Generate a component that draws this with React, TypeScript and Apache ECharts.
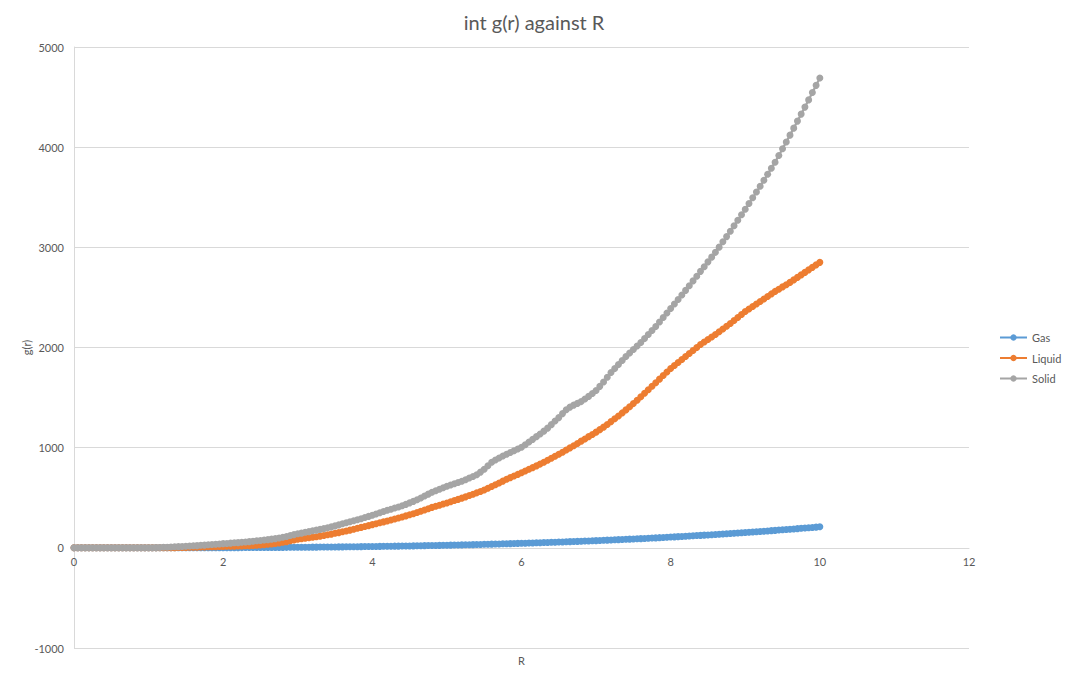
import React, { useEffect, useRef } from "react";
import * as echarts from "echarts";

const TITLE = "int g(r) against R";
const X_NAME = "R";
const Y_NAME = "g(r)";
const SERIES_NAMES = ["Gas", "Liquid", "Solid"];
const COLORS = ["#5B9BD5", "#ED7D31", "#A5A5A5"];

const R = [
  0, 0.05, 0.1, 0.15, 0.2, 0.25, 0.3, 0.35, 0.4, 0.45, 0.5, 0.55, 0.6, 0.65, 0.7, 0.75, 0.8, 0.85, 0.9, 0.95,
  1, 1.05, 1.1, 1.15, 1.2, 1.25, 1.3, 1.35, 1.4, 1.45, 1.5, 1.55, 1.6, 1.65, 1.7, 1.75, 1.8, 1.85, 1.9, 1.95,
  2, 2.05, 2.1, 2.15, 2.2, 2.25, 2.3, 2.35, 2.4, 2.45, 2.5, 2.55, 2.6, 2.65, 2.7, 2.75, 2.8, 2.85, 2.9, 2.95,
  3, 3.05, 3.1, 3.15, 3.2, 3.25, 3.3, 3.35, 3.4, 3.45, 3.5, 3.55, 3.6, 3.65, 3.7, 3.75, 3.8, 3.85, 3.9, 3.95,
  4, 4.05, 4.1, 4.15, 4.2, 4.25, 4.3, 4.35, 4.4, 4.45, 4.5, 4.55, 4.6, 4.65, 4.7, 4.75, 4.8, 4.85, 4.9, 4.95,
  5, 5.05, 5.1, 5.15, 5.2, 5.25, 5.3, 5.35, 5.4, 5.45, 5.5, 5.55, 5.6, 5.65, 5.7, 5.75, 5.8, 5.85, 5.9, 5.95,
  6, 6.05, 6.1, 6.15, 6.2, 6.25, 6.3, 6.35, 6.4, 6.45, 6.5, 6.55, 6.6, 6.65, 6.7, 6.75, 6.8, 6.85, 6.9, 6.95,
  7, 7.05, 7.1, 7.15, 7.2, 7.25, 7.3, 7.35, 7.4, 7.45, 7.5, 7.55, 7.6, 7.65, 7.7, 7.75, 7.8, 7.85, 7.9, 7.95,
  8, 8.05, 8.1, 8.15, 8.2, 8.25, 8.3, 8.35, 8.4, 8.45, 8.5, 8.55, 8.6, 8.65, 8.7, 8.75, 8.8, 8.85, 8.9, 8.95,
  9, 9.05, 9.1, 9.15, 9.2, 9.25, 9.3, 9.35, 9.4, 9.45, 9.5, 9.55, 9.6, 9.65, 9.7, 9.75, 9.8, 9.85, 9.9, 9.95,
  10,
];

const GAS = [
  0, 0, 0, 0, 0, 0, 0, 0, 0, 0, 0, 0, 0, 0, 0, 0, 0, 0, 0, 0,
  0.2, 0.2, 0.3, 0.3, 0.4, 0.4, 0.5, 0.5, 0.6, 0.6, 0.7, 0.8, 0.9, 0.9, 1.0, 1.1, 1.2, 1.3, 1.4, 1.6,
  1.7, 1.8, 1.9, 2.1, 2.2, 2.4, 2.6, 2.7, 2.9, 3.1, 3.3, 3.5, 3.7, 3.9, 4.1, 4.4, 4.6, 4.9, 5.1, 5.4,
  5.7, 6.0, 6.3, 6.6, 6.9, 7.2, 7.5, 7.9, 8.3, 8.6, 9.0, 9.4, 9.8, 10.2, 10.6, 11.1, 11.5, 12.0, 12.5, 12.9,
  13.4, 14.0, 14.5, 15.0, 15.6, 16.1, 16.7, 17.3, 17.9, 18.5, 19.1, 19.8, 20.4, 21.1, 21.8, 22.5, 23.2, 24.0, 24.7, 25.5,
  26.3, 27.0, 27.9, 28.7, 29.5, 30.4, 31.3, 32.2, 33.1, 34.0, 35.0, 35.9, 36.9, 37.9, 38.9, 39.9, 41.0, 42.0, 43.1, 44.2,
  45.4, 46.5, 47.7, 48.8, 50.0, 51.3, 52.5, 53.8, 55.0, 56.4, 57.7, 59.0, 60.4, 61.8, 63.2, 64.6, 66.0, 67.5, 69.0, 70.5,
  72.0, 73.6, 75.2, 76.8, 78.4, 80.0, 81.7, 83.4, 85.1, 86.8, 88.6, 90.4, 92.2, 94.0, 95.9, 97.7, 99.7, 101.6, 103.5, 105.5,
  107.5, 109.6, 111.6, 113.7, 115.8, 117.9, 120.1, 122.3, 124.5, 126.7, 129.0, 131.3, 133.6, 135.9, 138.3, 140.7, 143.1, 145.6, 148.0, 150.6,
  153.1, 155.7, 158.3, 160.9, 163.5, 166.2, 168.9, 171.7, 174.4, 177.2, 180.1, 182.9, 185.8, 188.7, 191.7, 194.7, 197.7, 200.7, 203.8, 206.9,
  210.0,
];

const LIQUID = [
  0, 0, 0, 0, 0, 0, 0, 0, 0, 0, 0, 0, 0, 0, 0, 0, 0, 0, 0, 0,
  0, 0, 0, 0, 1, 1, 2, 2, 3, 4, 4, 5, 6, 7, 8, 9, 10, 11, 12, 13,
  14, 15, 16, 17, 18, 19, 21, 22, 24, 26, 29, 32, 35, 39, 44, 49, 55, 62, 70, 78,
  85, 90, 95, 100, 105, 111, 117, 124, 130, 137, 145, 152, 160, 168, 177, 186, 195, 204, 213, 222,
  232, 241, 250, 259, 268, 278, 288, 298, 308, 319, 330, 341, 353, 365, 378, 391, 404, 415, 426, 437,
  448, 460, 472, 484, 496, 509, 522, 535, 549, 563, 578, 594, 612, 630, 648, 666, 685, 701, 717, 733,
  750, 767, 784, 801, 818, 836, 855, 875, 895, 915, 935, 955, 976, 998, 1020, 1042, 1065, 1087, 1110, 1132,
  1155, 1180, 1205, 1232, 1260, 1288, 1317, 1347, 1377, 1408, 1440, 1474, 1508, 1543, 1578, 1613, 1648, 1684, 1720, 1755,
  1790, 1820, 1850, 1880, 1910, 1940, 1970, 2000, 2030, 2055, 2080, 2105, 2130, 2157, 2185, 2212, 2240, 2270, 2300, 2330,
  2360, 2385, 2410, 2435, 2460, 2485, 2510, 2535, 2560, 2582, 2605, 2627, 2650, 2675, 2700, 2725, 2750, 2775, 2800, 2825,
  2850,
];

const SOLID = [
  0, 0, 0, 0, 0, 0, 0, 0, 0, 0, 0, 0, 0, 0, 0, 0, 0, 0, 0, 0,
  0, 1, 2, 3, 5, 6, 8, 10, 12, 14, 16, 18, 20, 22, 25, 27, 30, 33, 36, 39,
  42, 44, 47, 50, 52, 55, 59, 62, 66, 70, 74, 78, 82, 87, 92, 98, 105, 114, 123, 132,
  140, 147, 155, 162, 170, 177, 184, 192, 200, 209, 219, 229, 240, 250, 260, 270, 280, 291, 302, 314,
  325, 337, 350, 362, 375, 386, 397, 408, 420, 434, 449, 464, 480, 498, 517, 536, 555, 570, 585, 600,
  615, 627, 639, 652, 665, 680, 697, 713, 730, 756, 785, 820, 855, 877, 897, 916, 935, 952, 970, 987,
  1005, 1030, 1056, 1083, 1110, 1137, 1165, 1195, 1230, 1266, 1300, 1340, 1378, 1405, 1425, 1442, 1460, 1485, 1512, 1540,
  1570, 1612, 1656, 1703, 1750, 1790, 1830, 1870, 1910, 1945, 1980, 2015, 2050, 2090, 2130, 2170, 2210, 2255, 2300, 2345,
  2390, 2435, 2480, 2525, 2570, 2617, 2665, 2712, 2760, 2807, 2855, 2902, 2950, 3002, 3055, 3107, 3160, 3215, 3270, 3325,
  3380, 3437, 3495, 3552, 3610, 3670, 3730, 3790, 3850, 3917, 3985, 4052, 4120, 4190, 4260, 4330, 4400, 4472, 4545, 4617,
  4690,
];

const X_TICKS = { min: 0, max: 12, interval: 2 };
const Y_TICKS = { min: -1000, max: 5000, interval: 1000 };

const FONT = "Lato, 'Open Sans', sans-serif";
const TEXT_COLOR = "#595959";
const GRID_COLOR = "#d9d9d9";

const GRID = { left: 74, top: 47, right: 99, bottom: 36 };
const CHART_W = 1068;
const CHART_H = 684;

export default function App() {
  const ref = useRef<HTMLDivElement>(null);

  useEffect(() => {
    if (!ref.current) return;
    const chart = echarts.init(ref.current, null, { renderer: "svg" });
    const values = [GAS, LIQUID, SOLID];
    const series = SERIES_NAMES.map((name, k) => ({
      name,
      type: "line",
      data: R.map((r, i) => [r, values[k][i]]),
      symbol: "circle",
      symbolSize: 7,
      showSymbol: true,
      lineStyle: { color: COLORS[k], width: 2.25 },
      itemStyle: { color: COLORS[k] },
      emphasis: { disabled: true },
      z: 2 + k,
    }));

    const plotH = CHART_H - GRID.top - GRID.bottom;
    // distance from the bottom of the plot (y = min) up to y = 0
    const zeroOffset = (plotH * (0 - Y_TICKS.min)) / (Y_TICKS.max - Y_TICKS.min);
    const plotCx = GRID.left + (CHART_W - GRID.left - GRID.right) / 2;
    const plotCy = GRID.top + plotH / 2;

    chart.setOption({
      animation: false,
      backgroundColor: "#ffffff",
      textStyle: { fontFamily: FONT },
      title: {
        text: TITLE,
        left: "center",
        top: 7,
        textStyle: { fontFamily: FONT, fontSize: 20, fontWeight: "normal", color: TEXT_COLOR },
      },
      legend: {
        orient: "vertical",
        left: 994,
        top: 327,
        itemWidth: 27,
        itemHeight: 8,
        itemGap: 9.5,
        data: SERIES_NAMES,
        textStyle: { fontFamily: FONT, fontSize: 11, color: TEXT_COLOR },
      },
      grid: { ...GRID, containLabel: false },
      xAxis: {
        type: "value",
        min: X_TICKS.min,
        max: X_TICKS.max,
        interval: X_TICKS.interval,
        offset: -zeroOffset,
        axisLine: { show: true, onZero: false, lineStyle: { color: GRID_COLOR, width: 1 } },
        axisTick: { show: false },
        splitLine: { show: false },
        axisLabel: { color: TEXT_COLOR, fontSize: 11, fontFamily: FONT, margin: 8 },
      },
      yAxis: {
        type: "value",
        min: Y_TICKS.min,
        max: Y_TICKS.max,
        interval: Y_TICKS.interval,
        axisLine: { show: true, onZero: false, lineStyle: { color: GRID_COLOR, width: 1 } },
        axisTick: { show: false },
        splitLine: { show: true, lineStyle: { color: GRID_COLOR, width: 1 } },
        axisLabel: {
          color: TEXT_COLOR,
          fontSize: 11,
          fontFamily: FONT,
          margin: 10,
          formatter: (v: number) => String(v),
        },
      },
      graphic: [
        {
          type: "text",
          x: plotCx,
          y: CHART_H - 24,
          style: {
            text: X_NAME,
            fill: TEXT_COLOR,
            font: `11px ${FONT}`,
            align: "center",
            verticalAlign: "middle",
          },
        },
        {
          type: "text",
          x: 26,
          y: plotCy,
          rotation: Math.PI / 2,
          style: {
            text: Y_NAME,
            fill: TEXT_COLOR,
            font: `11px ${FONT}`,
            align: "center",
            verticalAlign: "middle",
          },
        },
      ],
      series,
    });
    return () => chart.dispose();
  }, []);

  return (
    <div
      ref={ref}
      style={{ position: "fixed", left: 0, top: 0, width: CHART_W, height: CHART_H, background: "#fff" }}
    />
  );
}
